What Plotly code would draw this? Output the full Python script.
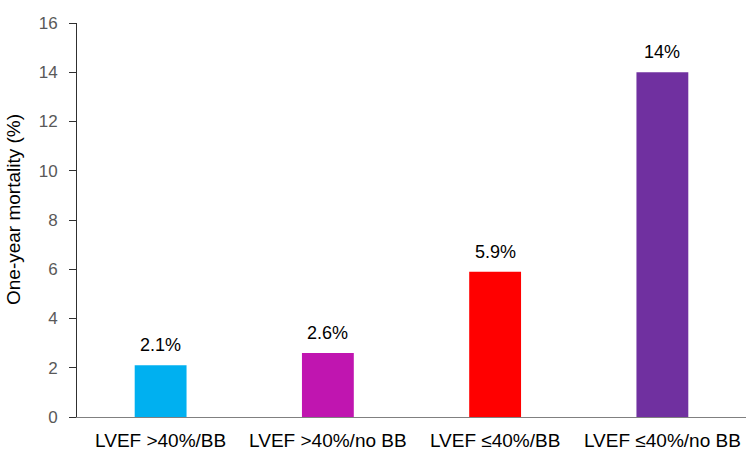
import plotly.graph_objects as go

categories = ["LVEF >40%/BB", "LVEF >40%/no BB", "LVEF ≤40%/BB", "LVEF ≤40%/no BB"]
values = [2.1, 2.6, 5.9, 14.0]
labels = ["2.1%", "2.6%", "5.9%", "14%"]
colors = ["#00B0F0", "#C015B0", "#FF0000", "#7030A0"]
y_ticks = [0, 2, 4, 6, 8, 10, 12, 14, 16]
y_title = "One-year mortality (%)"

FONT = "Liberation Sans, Arial, sans-serif"

fig = go.Figure(go.Bar(
    x=categories, y=values, marker=dict(color=colors, line=dict(width=0)),
    width=0.31, hoverinfo="skip",
))

for c, v, t in zip(categories, values, labels):
    fig.add_annotation(x=c, y=v, text=t, showarrow=False, yanchor="bottom",
                       yshift=8, font=dict(family=FONT, size=18, color="black"))

fig.add_annotation(xref="paper", yref="paper", x=0, y=0.5, xshift=-64, yshift=10,
                   text=y_title, textangle=-90, showarrow=False,
                   xanchor="center", yanchor="middle",
                   font=dict(family=FONT, size=19, color="black"))

fig.update_layout(
    width=750, height=465,
    margin=dict(l=77, r=4, t=23, b=48),
    plot_bgcolor="white", paper_bgcolor="white",
    showlegend=False,
    font=dict(family=FONT, size=16, color="black"),
)
fig.update_xaxes(
    range=[-0.5, 3.5], showline=True, linecolor="#808080", linewidth=1,
    ticks="", showgrid=False, tickfont=dict(size=19, color="black"),
    ticklabelstandoff=6,
)
fig.update_yaxes(
    range=[0, 16], tickvals=y_ticks, showline=True, linecolor="#303030", linewidth=1,
    ticks="outside", ticklen=7, tickcolor="#303030", showgrid=False, zeroline=False,
    tickfont=dict(size=17, color="#595959"), ticklabelstandoff=8,
)

fig.write_html("out.html")
